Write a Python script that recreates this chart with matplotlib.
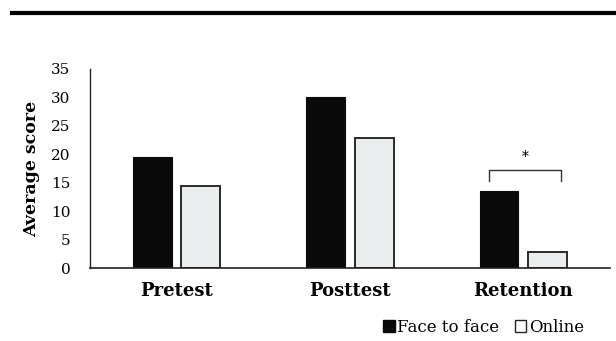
import numpy as np
import matplotlib
matplotlib.use("Agg")
import matplotlib.pyplot as plt
from matplotlib.patches import Rectangle
from matplotlib.lines import Line2D

# data
categories = ["Pretest", "Posttest", "Retention"]
face_to_face = [19.5, 30.0, 13.5]
online = [14.5, 22.8, 2.9]
yticks = [0, 5, 10, 15, 20, 25, 30, 35]

plt.rcParams["font.family"] = ["DejaVu Serif"]

fig = plt.figure(figsize=(6.16, 3.41), dpi=100)
ax = fig.add_axes([0.146, 0.214, 0.844, 0.584])

x = np.arange(len(categories))
w = 0.224
off = 0.14
ax.bar(x - off, face_to_face, width=w, color="#0a0a0a", edgecolor="#0a0a0a",
       linewidth=0.8)
ax.bar(x + off, online, width=w, color="#e9eded", edgecolor="#2a2a2a",
       linewidth=1.4)

ax.set_xlim(-0.5, 2.5)
ax.set_ylim(0, 35)
ax.set_yticks(yticks)
ax.set_yticklabels([str(t) for t in yticks], fontsize=11)
ax.tick_params(axis="y", length=0, pad=14)
ax.set_xticks(x)
ax.set_xticklabels(categories, fontsize=13, fontweight="bold")
ax.tick_params(axis="x", length=0, pad=10)
ax.spines[["top", "right"]].set_visible(False)
ax.spines["left"].set_color("#222222")
ax.spines["bottom"].set_color("#222222")
ax.spines["left"].set_linewidth(1.0)
ax.spines["bottom"].set_linewidth(1.2)
ax.set_ylabel("Average score", fontsize=12.5, fontweight="bold", labelpad=8)

# significance bracket on Retention
x0, x1 = x[2] - 0.2, x[2] + 0.22
yb = 17.3
ax.plot([x0, x0, x1, x1], [yb - 2.0, yb, yb, yb - 2.0], color="#333333",
        linewidth=1.0)
ax.text((x0 + x1) / 2, yb + 0.9, "*", ha="center", va="bottom", fontsize=10)

# legend
handles = [Rectangle((0, 0), 1, 1, facecolor="#0a0a0a", edgecolor="#0a0a0a"),
           Rectangle((0, 0), 1, 1, facecolor="white", edgecolor="#222222")]
fig.legend(handles, ["Face to face", "Online"], loc="center",
           bbox_to_anchor=(0.785, 0.04), ncol=2, frameon=False, fontsize=12,
           handlelength=0.7, handleheight=0.7, handletextpad=0.15,
           columnspacing=0.9)

# thick rule at the top
fig.add_artist(Line2D([0.02, 1.0], [0.962, 0.962], color="black",
                      linewidth=3.0, transform=fig.transFigure))

fig.savefig("out.png", dpi=100)
